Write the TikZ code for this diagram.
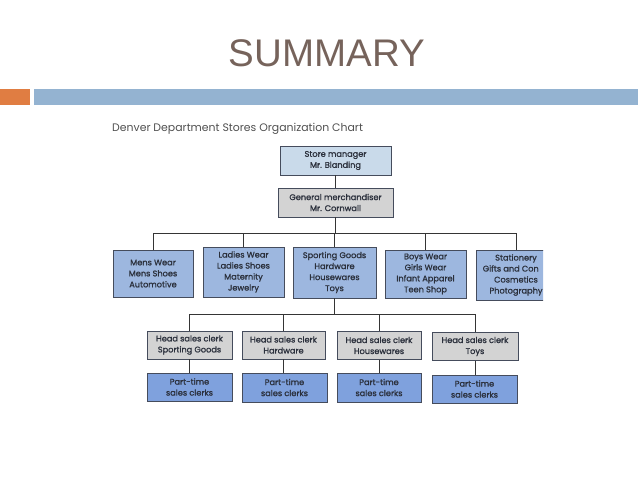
\documentclass[tikz,border=0pt]{standalone}
\usepackage{fontspec}
\usepackage{calc}
\setmainfont{Poppins}
\newfontfamily\titlefont{Liberation Sans}
\newfontfamily\boxfont{Poppins}[FakeBold=1.2]
\definecolor{titlecol}{HTML}{76635B}
\definecolor{barorange}{HTML}{E07D42}
\definecolor{barblue}{HTML}{94B3D1}
\definecolor{smfill}{HTML}{C9DAEA}
\definecolor{grayfill}{HTML}{D3D3D3}
\definecolor{deptfill}{HTML}{9DB7DF}
\definecolor{ptfill}{HTML}{7FA1DD}
\definecolor{boxline}{HTML}{454C5C}
\definecolor{boxtext}{HTML}{2B303C}
\definecolor{linecol}{HTML}{353535}
\definecolor{charttitle}{HTML}{505050}
\tikzset{
  orgbox/.style={draw=boxline, line width=0.7pt, inner sep=0pt, align=center,
    text=boxtext, font=\boxfont\fontsize{8.2}{11}\selectfont},
  smbox/.style={orgbox, fill=smfill},
  graybox/.style={orgbox, fill=grayfill},
  deptbox/.style={orgbox, fill=deptfill},
  ptbox/.style={orgbox, fill=ptfill},
  conn/.style={draw=linecol, line width=0.7pt}
}
\begin{document}
\begin{tikzpicture}[x=1pt,y=-1pt]
\useasboundingbox (0,0) rectangle (638,479);
% header
\node[anchor=base, text=titlecol, font=\titlefont\fontsize{38.5}{40}\selectfont] (title) at (327,66) {SUMMARY};
\fill[barorange] (0,89) rectangle (30,105);
\fill[barblue] (34,89) rectangle (638,105);
% chart title
\node[anchor=base west, text=charttitle, font=\fontsize{10.9}{12}\selectfont, inner sep=0pt] (ct) at (112,131) {Denver Department Stores Organization Chart};
% top
\node[smbox, minimum width=111, minimum height=29] (sm) at (335.5,160.5) {Store manager\\Mr. Blanding};
\node[graybox, minimum width=115, minimum height=29] (gm) at (335.5,202.5) {General merchandiser\\Mr. Cornwall};
% departments
\node[deptbox, minimum width=80, minimum height=47] (mens) at (153,273.5) {Mens Wear\\Mens Shoes\\Automotive};
\node[deptbox, minimum width=81, minimum height=50] (ladies) at (243.5,272) {Ladies Wear\\Ladies Shoes\\Maternity\\Jewelry};
\node[deptbox, minimum width=83, minimum height=51] (sport) at (334.5,272.5) {Sporting Goods\\Hardware\\Housewares\\Toys};
\node[deptbox, minimum width=81, minimum height=48] (boys) at (425.5,274) {Boys Wear\\Girls Wear\\Infant Apparel\\Teen Shop};
\begin{scope}
\clip (0,0) rectangle (543,479);
\node[deptbox, minimum width=80, minimum height=50] (stat) at (516,275) {Stationery\\\makebox[\widthof{Gifts and Candy}][l]{Gifts and Con}\\Cosmetics\\Photography};
\end{scope}
% head sales clerks
\node[graybox, minimum width=85, minimum height=28] (h1) at (189.5,345) {Head sales clerk\\Sporting Goods};
\node[graybox, minimum width=83, minimum height=28] (h2) at (283.5,345) {Head sales clerk\\Hardware};
\node[graybox, minimum width=84, minimum height=28] (h3) at (379,345.5) {Head sales clerk\\Housewares};
\node[graybox, minimum width=86, minimum height=28] (h4) at (475,346.5) {Head sales clerk\\Toys};
% part-time
\node[ptbox, minimum width=85, minimum height=28] (p1) at (189.5,387) {Part-time\\sales clerks};
\node[ptbox, minimum width=85, minimum height=29] (p2) at (284.5,387.5) {Part-time\\sales clerks};
\node[ptbox, minimum width=84, minimum height=29] (p3) at (379,387.5) {Part-time\\sales clerks};
\node[ptbox, minimum width=85, minimum height=28] (p4) at (474.5,389) {Part-time\\sales clerks};
% connectors
\draw[conn] (sm) -- (gm);
\coordinate (bus1) at (335.5,233);
\draw[conn] (gm.south) -- (bus1);
\draw[conn] (mens.north) |- (bus1);
\draw[conn] (ladies.north) |- (bus1);
\draw[conn] (sport.north) -- (sport.north |- bus1);
\draw[conn] (boys.north) |- (bus1);
\draw[conn] (stat.north) |- (bus1);
\coordinate (bus2) at (334.5,314);
\draw[conn] (sport.south) -- (bus2);
\draw[conn] (h1.north) |- (bus2);
\draw[conn] (h2.north) |- (bus2);
\draw[conn] (h3.north) |- (bus2);
\draw[conn] (h4.north) |- (bus2);
\draw[conn] (h1) -- (p1);
\draw[conn] (h2) -- (h2 |- p2.north);
\draw[conn] (h3) -- (p3);
\draw[conn] (h4.south) -- (h4.south |- p4.north);
\end{tikzpicture}
\end{document}
